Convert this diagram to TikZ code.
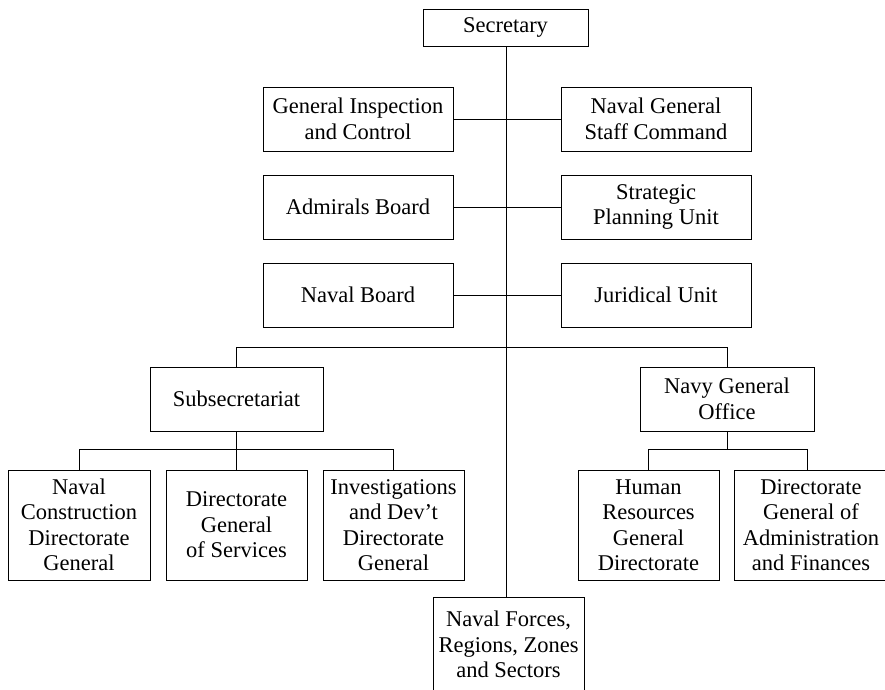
\documentclass[tikz,border=0pt]{standalone}
\usepackage{fontspec}
\setmainfont{Liberation Serif}
\begin{document}
\begin{tikzpicture}[x=1pt,y=-1pt,
  unit/.style={draw, line width=1pt, align=center, inner sep=0pt,
    font=\fontsize{22.5}{25.5}\selectfont},
  link/.style={line width=1pt}]
\useasboundingbox (0,0) rectangle (885,689);

% top of the hierarchy
\node[unit, minimum width=165pt, minimum height=37pt] (sec) at (505.5,27.5) {Secretary};

% advisory bodies on both sides of the main line
\node[unit, minimum width=190pt, minimum height=64pt] (gic) at (358,119) {General Inspection\\and Control};
\node[unit, minimum width=190pt, minimum height=64pt] (ngs) at (656,119) {Naval General\\Staff Command};
\node[unit, minimum width=190pt, minimum height=64pt] (adm) at (358,207) {Admirals Board};
\node[unit, minimum width=190pt, minimum height=64pt] (spu) at (656,207) {Strategic\\Planning Unit};
\node[unit, minimum width=190pt, minimum height=64pt] (nb)  at (358,295) {Naval Board};
\node[unit, minimum width=190pt, minimum height=64pt] (ju)  at (656,295) {Juridical Unit};

% second level
\node[unit, minimum width=173pt, minimum height=64pt] (sub) at (236.5,399) {Subsecretariat};
\node[unit, minimum width=174pt, minimum height=64pt] (ngo) at (727,399) {Navy General\\Office};

% directorates
\node[unit, minimum width=142pt, minimum height=110pt] (ncd) at (79,525) {Naval\\Construction\\Directorate\\General};
\node[unit, minimum width=141pt, minimum height=110pt] (dgs) at (236.5,525) {Directorate\\General\\of Services};
\node[unit, minimum width=141pt, minimum height=110pt] (idd) at (393.5,525) {Investigations\\and Dev’t\\Directorate\\General};
\node[unit, minimum width=141pt, minimum height=110pt] (hr)  at (648.5,525) {Human\\Resources\\General\\Directorate};
\node[unit, minimum width=154pt, minimum height=110pt] (dga) at (811,525) {Directorate\\General of\\Administration\\and Finances};

% operational forces at the foot of the main line
\node[unit, minimum width=151pt, minimum height=95pt] (nf) at (508.5,644.5) {Naval Forces,\\Regions, Zones\\and Sectors};

\coordinate (trunk) at (506,0);
\coordinate (topbus) at (0,347);
\coordinate (subbus) at (0,449);
\coordinate (dgatop) at (807,470);

% main line
\draw[link] (trunk |- sec.south) -- (trunk |- nf.north);

% side connections
\draw[link] (gic.east) -- (ngs.west);
\draw[link] (adm.east) -- (spu.west);
\draw[link] (nb.east) -- (ju.west);

% branch to the two offices
\draw[link] (sub.north) -- (sub.north |- topbus) -- (ngo.north |- topbus) -- (ngo.north);

% directorates under the subsecretariat
\draw[link] (sub.south) -- (sub.south |- subbus);
\draw[link] (ncd.north) -- (ncd.north |- subbus) -- (idd.north |- subbus) -- (idd.north);
\draw[link] (dgs.north) -- (dgs.north |- subbus);

% directorates under the general office
\draw[link] (ngo.south) -- (ngo.south |- subbus);
\draw[link] (hr.north) -- (hr.north |- subbus) -- (dgatop |- subbus) -- (dgatop);
\end{tikzpicture}
\end{document}
